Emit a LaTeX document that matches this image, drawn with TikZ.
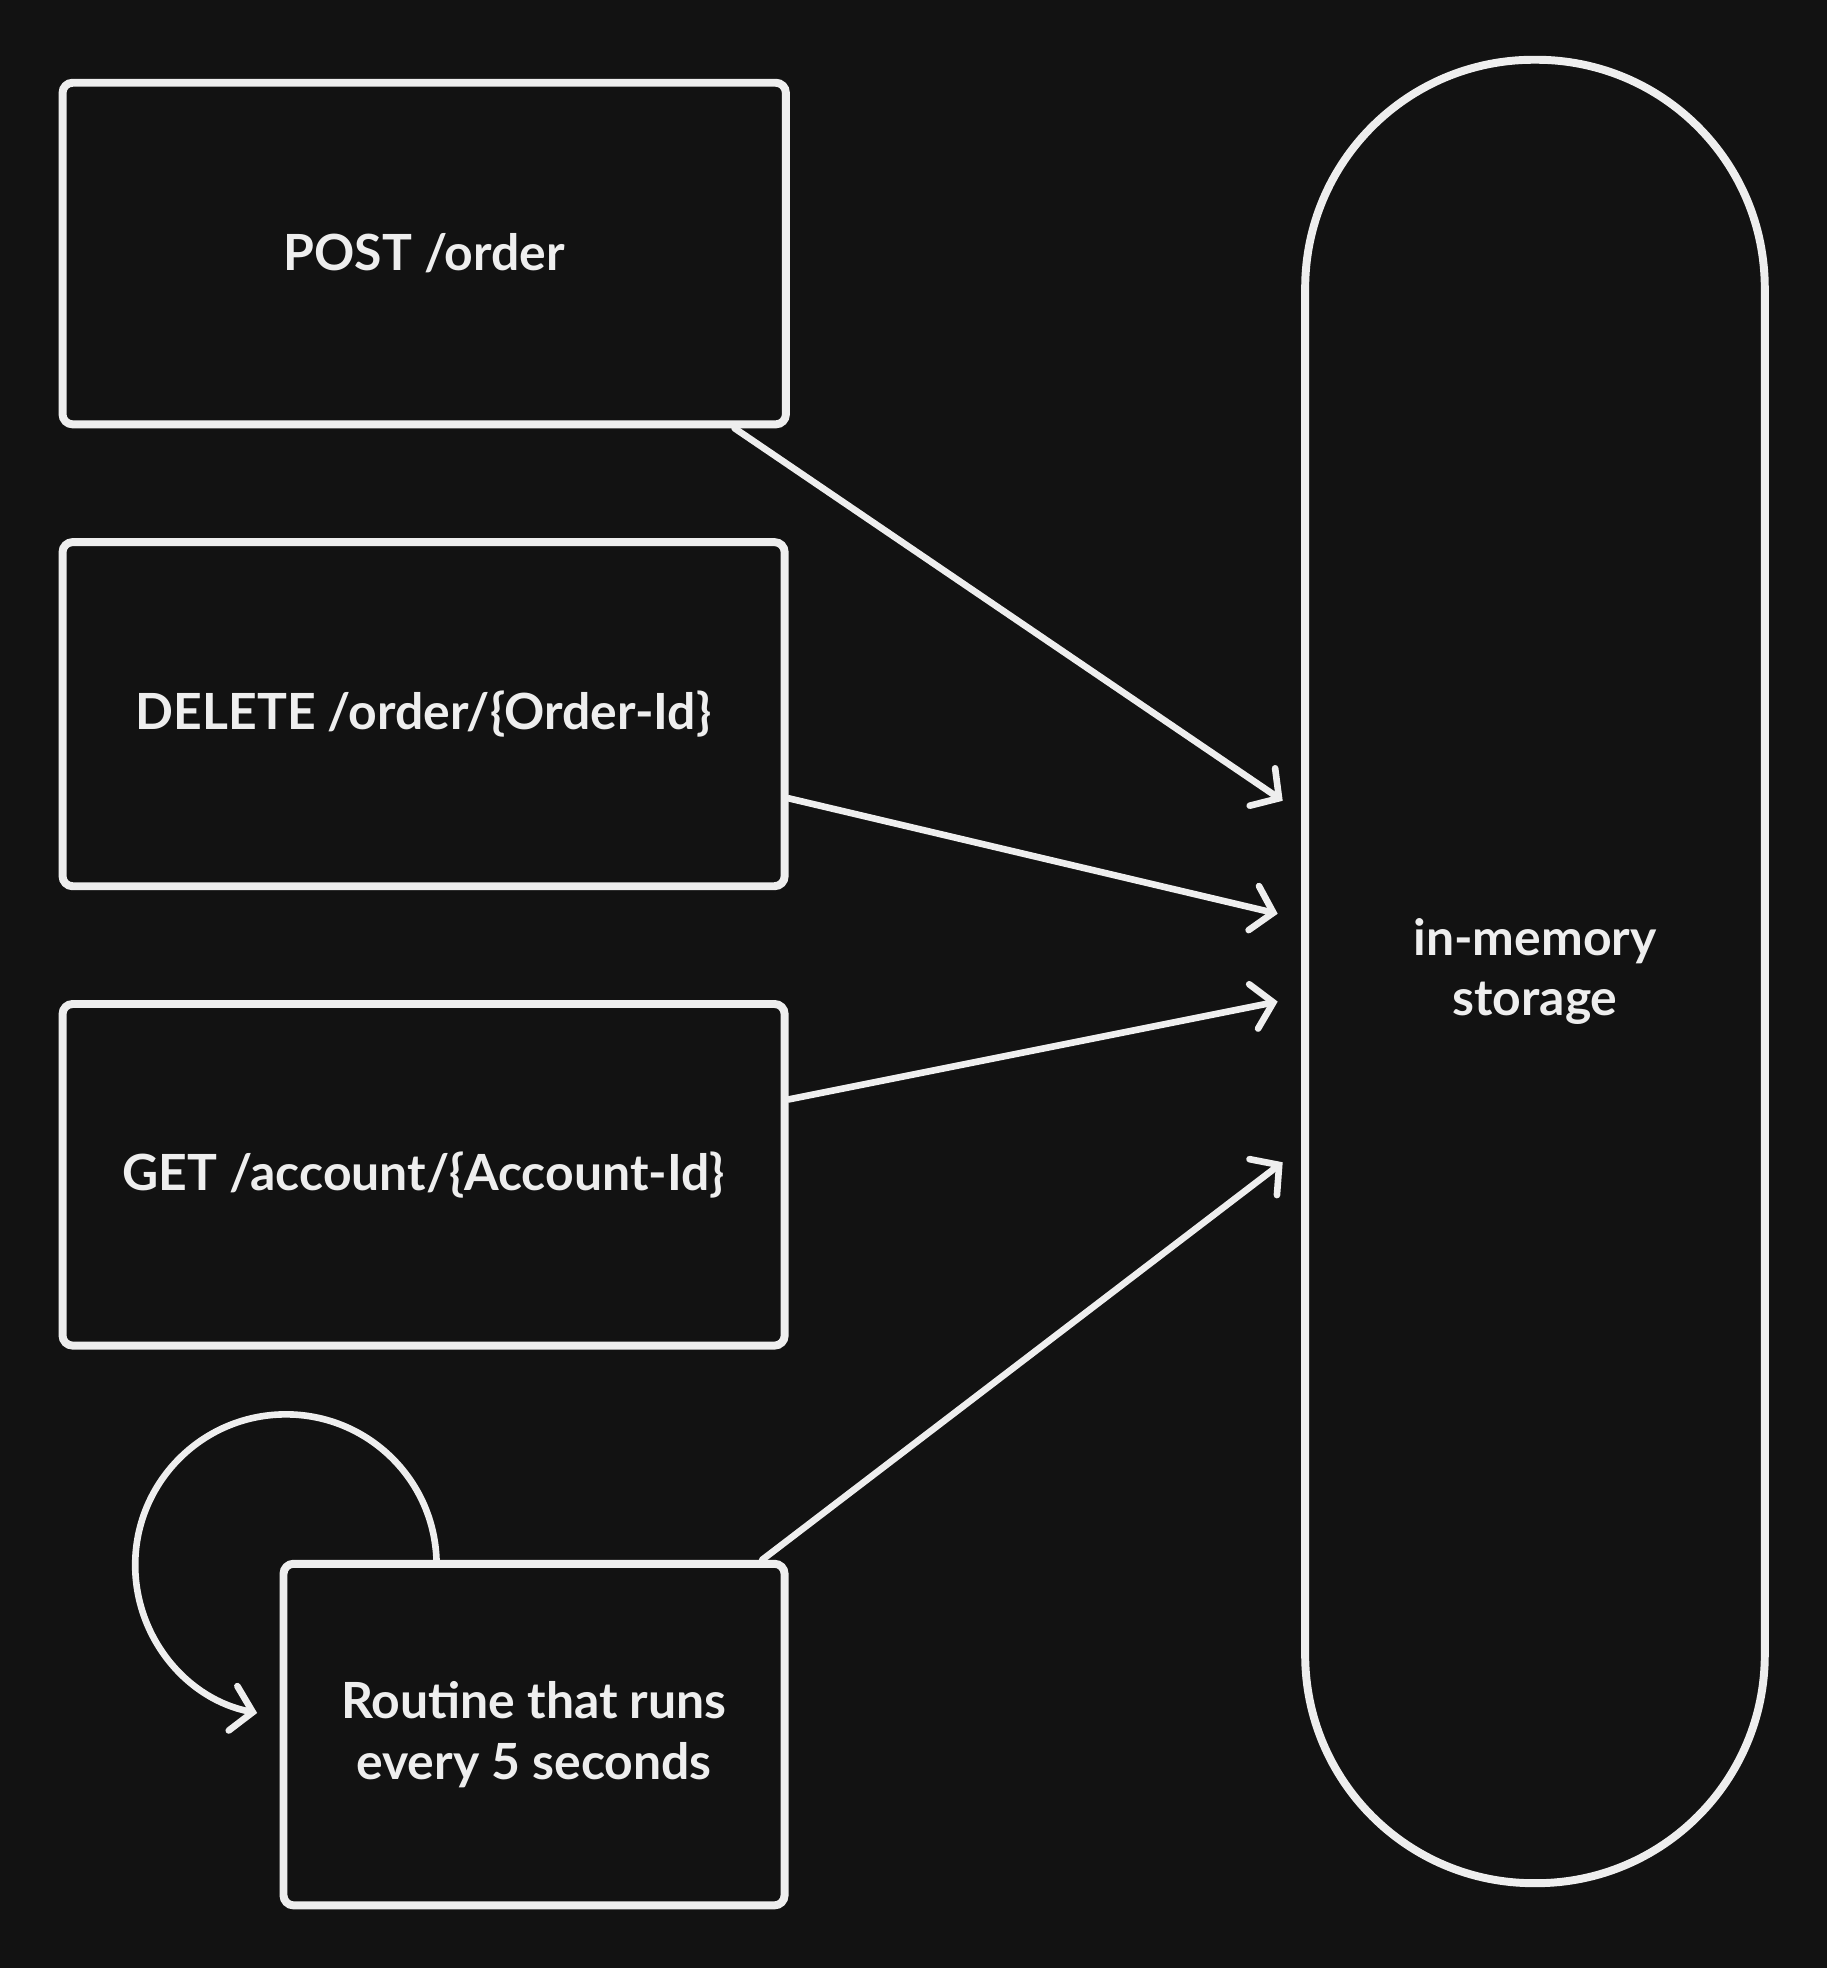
\documentclass[tikz,border=0pt]{standalone}
\usepackage{fontspec}
\setmainfont{Lato}
\usetikzlibrary{arrows.meta}
\definecolor{bg}{HTML}{121212}
\definecolor{ink}{HTML}{EEEEEE}

\begin{document}
\begin{tikzpicture}[x=0.01cm,y=-0.01cm]
    \tikzstyle{box} = [draw=ink, line width=1.8pt, rounded corners=0.08cm, text=ink,
        font=\fontsize{11.3}{13.7}\selectfont\bfseries, align=center, inner sep=0pt]
    \tikzstyle{arr} = [draw=ink, line width=1.5pt, line cap=round,
        -{Straight Barb[length=0.16cm, width=0.36cm, line cap=round]}]

    \fill[bg] (0,0) rectangle (1456,1568);
    \useasboundingbox (0,0) rectangle (1456,1568);

    \node[box, minimum width=5.76cm, minimum height=2.72cm] (post) at (338,202) {POST /order};
    \node[box, minimum width=5.75cm, minimum height=2.74cm] (del) at (337.5,569) {DELETE /order/\{Order-Id\}};
    \node[box, minimum width=5.75cm, minimum height=2.72cm] (get) at (337.5,936) {GET /account/\{Account-Id\}};
    \node[box, minimum width=3.99cm, minimum height=2.72cm] (routine) at (425.5,1382) {Routine that runs\\every 5 seconds};
    \node[box, rounded corners=1.82cm, minimum width=3.66cm, minimum height=14.52cm] (store) at (1223,774) {in-memory\\storage};

    %\coordinate (in0) at (store.west);
    \coordinate (in1) at (1022,638);
    \coordinate (in2) at (1018,728);
    \coordinate (in3) at (1018,798);
    \coordinate (in4) at (1022,926);

    \draw[arr] ([xshift=-0.44cm]post.south east) -- (in1);
    \draw[arr] ([yshift=-0.67cm]del.east) -- (in2);
    \draw[arr] ([yshift=0.6cm]get.east) -- (in3);
    \draw[arr] ([xshift=-0.21cm]routine.north east) -- (in4);
    \draw[arr] ([xshift=1.25cm]routine.north west) arc[start angle=2, end angle=259, radius=1.2cm];
\end{tikzpicture}
\end{document}
